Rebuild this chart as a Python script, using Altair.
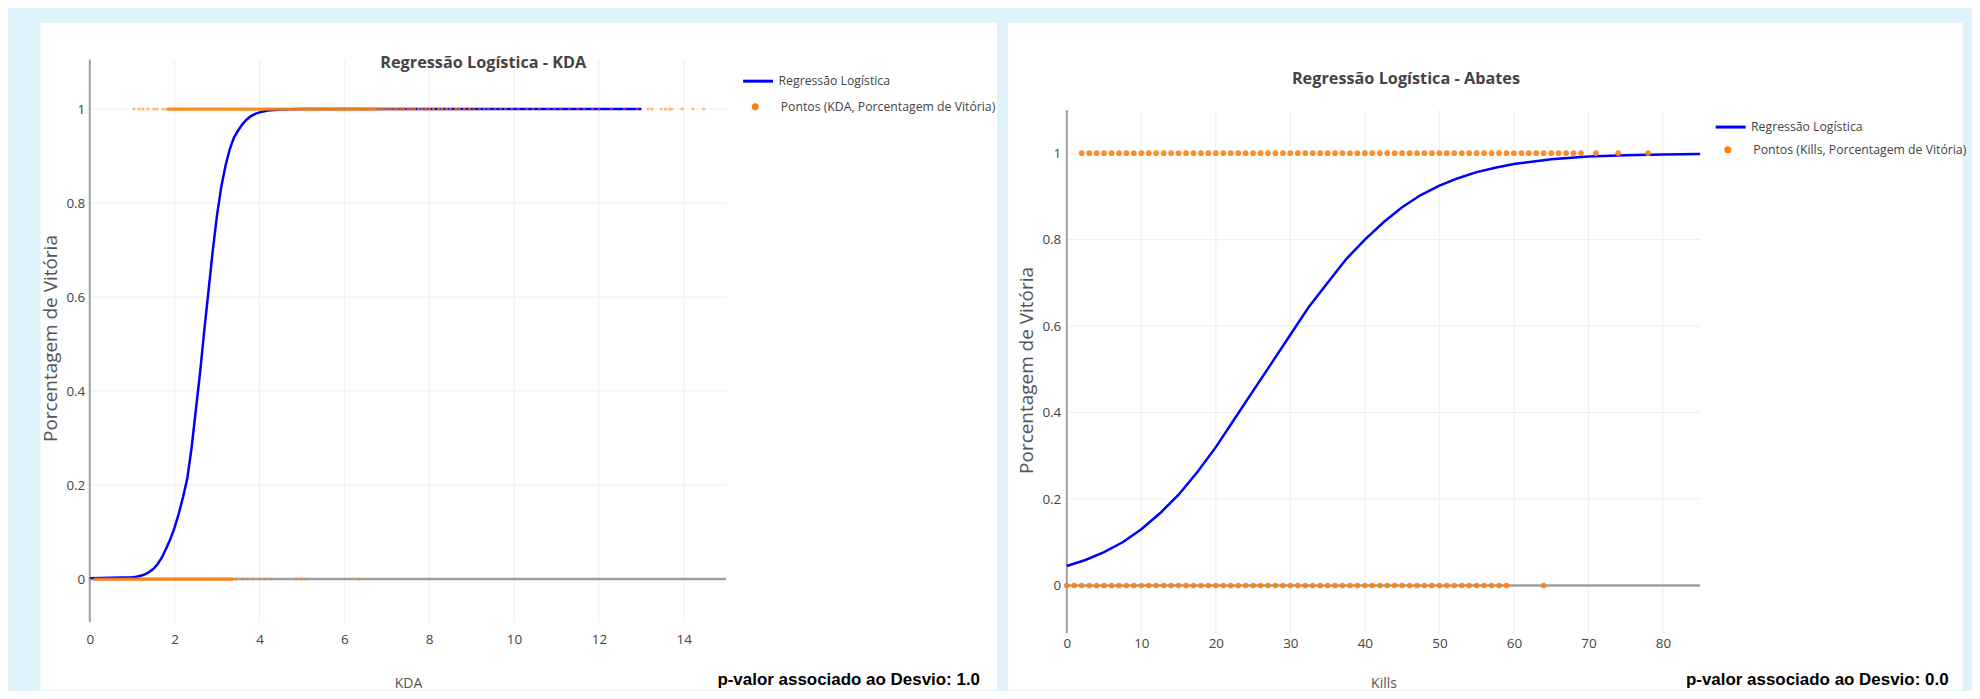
import altair as alt
import pandas as pd

# ---------------- data ----------------
TITLES = ["Regressão Logística - KDA", "Regressão Logística - Abates"]
X_TITLES = ["KDA", "Kills"]
Y_TITLE = "Porcentagem de Vitória"
LINE_NAME = "Regressão Logística"
POINT_NAMES = ["Pontos (KDA, Porcentagem de Vitória)", "Pontos (Kills, Porcentagem de Vitória)"]
NOTE_PREFIX = "p-valor associado ao Desvio: "
P_VALUES = ["1.0", "0.0"]

# logistic curve KDA
kda_curve_x = [0.0, 0.5, 1.0, 1.1, 1.2, 1.3, 1.4, 1.5, 1.6, 1.7, 1.8, 1.9, 2.0, 2.1, 2.2,
               2.3, 2.4, 2.5, 2.6, 2.7, 2.8, 2.9, 3.0, 3.1, 3.2, 3.3, 3.4, 3.5, 3.6, 3.7,
               3.8, 3.9, 4.0, 4.2, 4.5, 5.0, 7.0, 9.0, 11.0, 13.0]
kda_curve_p = [0.002, 0.003, 0.004, 0.005, 0.007, 0.010, 0.015, 0.022, 0.032, 0.046, 0.065,
               0.085, 0.11, 0.14, 0.175, 0.215, 0.28, 0.36, 0.44, 0.53, 0.615, 0.70, 0.775,
               0.835, 0.88, 0.915, 0.94, 0.955, 0.968, 0.978, 0.985, 0.99, 0.993, 0.997,
               0.999, 1.0, 1.0, 1.0, 1.0, 1.0]

# KDA of won games (y = 1)
kda_win_sparse = [1.04, 1.16, 1.25, 1.37, 1.51, 1.58, 1.72, 1.80]
kda_win_dense = [1.85, 1.90, 1.95, 2.00, 2.05, 2.10, 2.15, 2.20, 2.25, 2.30, 2.35, 2.40,
                 2.45, 2.50, 2.55, 2.60, 2.65, 2.70, 2.75, 2.80, 2.85, 2.90, 2.95, 3.00,
                 3.05, 3.10, 3.15, 3.20, 3.25, 3.30, 3.35, 3.40, 3.45, 3.50, 3.55, 3.60,
                 3.65, 3.70, 3.75, 3.80, 3.85, 3.90, 3.95, 4.00, 4.05, 4.10, 4.15, 4.20,
                 4.25, 4.30, 4.35, 4.40, 4.45, 4.50, 4.55, 4.60, 4.65, 4.70, 4.75, 4.80,
                 4.85, 4.90, 4.95, 5.00, 5.05, 5.10, 5.15, 5.20, 5.25, 5.30, 5.35, 5.40,
                 5.45, 5.50, 5.55, 5.60, 5.65, 5.70, 5.75, 5.80, 5.85, 5.90, 5.95, 6.00,
                 6.05, 6.10, 6.15, 6.20, 6.25, 6.30, 6.35, 6.40, 6.45, 6.50, 6.55, 6.60,
                 6.65, 6.70, 6.75]
kda_win_mid = [6.82, 6.88, 6.95, 7.03, 7.10, 7.18, 7.25, 7.33, 7.40, 7.50, 7.58, 7.65,
               7.75, 7.83, 7.92, 8.00, 8.10, 8.22, 8.30, 8.41, 8.50, 8.62, 8.70, 8.83,
               8.95]
kda_win_upper = [9.05, 9.18, 9.30, 9.40, 9.55, 9.68, 9.80, 9.95, 10.10, 10.30, 10.45,
                 10.60, 10.80, 10.95, 11.10, 11.30, 11.50, 11.65, 11.85, 12.00, 12.30,
                 12.60, 12.90]
kda_win_high = [13.16, 13.25, 13.47, 13.57, 13.66, 13.72, 13.96, 14.21, 14.47]

# KDA of lost games (y = 0)
kda_loss_low = [0.0, 0.1]
kda_loss_dense = [0.15, 0.20, 0.25, 0.30, 0.35, 0.40, 0.45, 0.50, 0.55, 0.60, 0.65, 0.70,
                  0.75, 0.80, 0.85, 0.90, 0.95, 1.00, 1.05, 1.10, 1.15, 1.20, 1.25, 1.30,
                  1.35, 1.40, 1.45, 1.50, 1.55, 1.60, 1.65, 1.70, 1.75, 1.80, 1.85, 1.90,
                  1.95, 2.00, 2.05, 2.10, 2.15, 2.20, 2.25, 2.30, 2.35, 2.40, 2.45, 2.50,
                  2.55, 2.60, 2.65, 2.70, 2.75, 2.80, 2.85, 2.90, 2.95, 3.00, 3.05, 3.10,
                  3.15, 3.20, 3.25, 3.30, 3.35]
kda_loss_sparse = [3.45, 3.60, 3.72, 3.84, 4.00, 4.12, 4.27, 4.86, 4.98, 5.10, 6.35]
dense_repeat = 3  # estimated number of games stacked at each dense value
mid_repeat = 2

# logistic curve Kills
kills_curve_x = [0, 2.5, 5, 7.5, 10, 12.5, 15, 17.5, 20, 22.5, 25, 27.5, 30, 32.5, 35,
                 37.5, 40, 42.5, 45, 47.5, 50, 52.5, 55, 57.5, 60, 65, 70, 75, 80, 85]
kills_curve_p = [0.045, 0.059, 0.077, 0.10, 0.13, 0.167, 0.21, 0.262, 0.32, 0.385, 0.45,
                 0.515, 0.58, 0.645, 0.70, 0.755, 0.80, 0.84, 0.875, 0.903, 0.925, 0.942,
                 0.956, 0.966, 0.975, 0.986, 0.992, 0.995, 0.997, 0.998]

kills_win = [2, 3, 4, 5, 6, 7, 8, 9, 10, 11, 12, 13, 14, 15, 16, 17, 18, 19, 20, 21, 22,
             23, 24, 25, 26, 27, 28, 29, 30, 31, 32, 33, 34, 35, 36, 37, 38, 39, 40, 41,
             42, 43, 44, 45, 46, 47, 48, 49, 50, 51, 52, 53, 54, 55, 56, 57, 58, 59, 60,
             61, 62, 63, 64, 65, 66, 67, 68, 69, 71, 74, 78]
kills_loss = [0, 1, 2, 3, 4, 5, 6, 7, 8, 9, 10, 11, 12, 13, 14, 15, 16, 17, 18, 19, 20,
              21, 22, 23, 24, 25, 26, 27, 28, 29, 30, 31, 32, 33, 34, 35, 36, 37, 38, 39,
              40, 41, 42, 43, 44, 45, 46, 47, 48, 49, 50, 51, 52, 53, 54, 55, 56, 57, 58,
              59, 64]

kda_x_ticks = [0, 2, 4, 6, 8, 10, 12, 14]
kills_x_ticks = [0, 10, 20, 30, 40, 50, 60, 70, 80]
y_ticks = [0, 0.2, 0.4, 0.6, 0.8, 1.0]

# ---------------- style ----------------
FONT = "Open Sans"
NOTE_FONT = "Liberation Sans"
TXT = "#444444"
BLUE = "#0000ff"
ORANGE = "#ff7f0e"


def panel(idx, curve_x, curve_p, pts_x, pts_y, xdom, ydom, xticks, W, H, g, psize, popac):
    X = alt.X("x:Q", scale=alt.Scale(domain=xdom, nice=False, zero=False),
              axis=alt.Axis(values=xticks, format="d", grid=False, domain=False, ticks=False,
                            labelFlush=False, labelPadding=g["xlabpad"], labelFont=FONT,
                            labelFontSize=13.5, labelColor=TXT, title=X_TITLES[idx],
                            titleFont=FONT, titleFontSize=14, titleFontWeight="normal",
                            titleColor="#555555", titleY=g["xtitley"],
                            titleBaseline="alphabetic", zindex=1))
    Y = alt.Y("y:Q", scale=alt.Scale(domain=ydom, nice=False, zero=False),
              axis=alt.Axis(values=y_ticks, format="~g", grid=False, domain=False, ticks=False,
                            labelPadding=g["ylabpad"], labelFont=FONT, labelFontSize=13.5,
                            labelColor=TXT, title=Y_TITLE, titleFont=FONT,
                            titleFontSize=19, titleFontWeight="normal", titleColor="#555555",
                            titleX=g["ytitlex"], titleY=g["ytitley"], titleBaseline="middle",
                            titleAngle=270, zindex=1))

    bg = alt.Chart(pd.DataFrame({"k": [0]})).mark_rect(color="white").encode(
        x=alt.value(g["rx1"]), x2=alt.value(g["rx2"]),
        y=alt.value(g["ry1"]), y2=alt.value(g["ry2"]))

    ylo, yhi = g["yline"]
    hgrid = alt.Chart(pd.DataFrame({"y": y_ticks[1:], "x": xdom[0], "x2": xdom[1]})).mark_rule(
        color="#eeeeee", strokeWidth=1).encode(x=X, x2="x2:Q", y=Y)
    vgrid = alt.Chart(pd.DataFrame({"x": xticks[1:], "y": ylo, "y2": yhi})).mark_rule(
        color="#eeeeee", strokeWidth=1).encode(x=X, y=Y, y2="y2:Q")
    zero_h = alt.Chart(pd.DataFrame({"x": [xdom[0]], "x2": [xdom[1]], "y": [0]})).mark_rule(
        color="#a0a0a0", strokeWidth=2.5).encode(x=X, x2="x2:Q", y=Y)
    zero_v = alt.Chart(pd.DataFrame({"x": [0], "y": [ylo], "y2": [yhi]})).mark_rule(
        color="#a0a0a0", strokeWidth=2).encode(x=X, y=Y, y2="y2:Q")

    curve = alt.Chart(pd.DataFrame({"x": curve_x, "y": curve_p, "serie": LINE_NAME})).mark_line(
        strokeWidth=2.5).encode(
        x=X, y=Y,
        stroke=alt.Stroke("serie:N", scale=alt.Scale(domain=[LINE_NAME], range=[BLUE]),
                          legend=alt.Legend(orient="none", legendX=g["l1x"], legendY=g["l1y"],
                                            title=None, symbolType="stroke", symbolSize=900,
                                            symbolStrokeWidth=3, labelFont=FONT,
                                            labelFontSize=12.3, labelColor=TXT, labelLimit=0,
                                            labelOffset=4, padding=0)))

    pts = alt.Chart(pd.DataFrame({"x": pts_x, "y": pts_y, "serie": POINT_NAMES[idx]})).mark_circle(
        size=psize, opacity=popac).encode(
        x=X, y=Y,
        fill=alt.Fill("serie:N", scale=alt.Scale(domain=[POINT_NAMES[idx]], range=[ORANGE]),
                      legend=alt.Legend(orient="none", legendX=g["l2x"], legendY=g["l2y"],
                                        title=None, symbolType="circle", symbolSize=50,
                                        symbolOpacity=1, labelFont=FONT, labelFontSize=12.3,
                                        labelColor=TXT, labelLimit=0,
                                        labelOffset=19.4, padding=0)))

    title = alt.Chart(pd.DataFrame({"t": [TITLES[idx]]})).mark_text(
        font=FONT, fontSize=16.3, fontWeight="bold", color=TXT, align="center",
        baseline="middle").encode(text="t:N", x=alt.value(g["tx"]), y=alt.value(g["ty"]))

    note = alt.Chart(pd.DataFrame({"t": [NOTE_PREFIX + P_VALUES[idx]]})).mark_text(
        font=NOTE_FONT, fontSize=17, fontWeight="bold", color="#000000", align="right",
        baseline="alphabetic").encode(text="t:N", x=alt.value(g["nx"]), y=alt.value(g["ny"]))

    return alt.layer(bg, hgrid, vgrid, zero_h, zero_v, curve, pts, title, note).properties(
        width=W, height=H)


# left panel points
lx = (kda_win_sparse + kda_win_dense * dense_repeat + kda_win_mid * mid_repeat
      + kda_win_upper + kda_win_high
      + kda_loss_low + kda_loss_dense * dense_repeat + kda_loss_sparse)
ly = ([1] * (len(kda_win_sparse) + len(kda_win_dense) * dense_repeat
             + len(kda_win_mid) * mid_repeat + len(kda_win_upper) + len(kda_win_high))
      + [0] * (len(kda_loss_low) + len(kda_loss_dense) * dense_repeat + len(kda_loss_sparse)))

left_geom = dict(rx1=-49.5, rx2=909.5, ry1=-37, ry2=632, tx=394.5, ty=3, yline=(-0.092, 1.105),
                 l1x=653.5, l1y=5, l2x=661, l2y=41,
                 nx=892.5, ny=627, xlabpad=10, xtitley=65, ylabpad=5, ytitlex=-39.5,
                 ytitley=279)
right_geom = dict(rx1=-59, rx2=898, ry1=-37, ry2=632, tx=340, ty=19, yline=(-0.1105, 1.1),
                  l1x=649, l1y=51, l2x=656.5, l2y=84,
                  nx=884, ny=627, xlabpad=3, xtitley=54, ylabpad=6, ytitlex=-40, ytitley=311)

left = panel(0, kda_curve_x, kda_curve_p, lx, ly, [0, 15], [-0.092, 1.105], kda_x_ticks,
             638, 564, left_geom, 11, 0.5)
right = panel(1, kills_curve_x, kills_curve_p, kills_win + kills_loss,
              [1] * len(kills_win) + [0] * len(kills_loss), [0, 85], [-0.1105, 1.216],
              kills_x_ticks, 635, 575, right_geom, 32, 0.9)

chart = alt.hconcat(left, right, spacing=341.5, bounds="flush").resolve_scale(
    x="independent", y="independent", stroke="independent", fill="independent"
).resolve_legend(stroke="independent", fill="independent").properties(
    padding={"left": 32, "top": 14, "right": 5, "bottom": 0},
    background="#e1f3fa",
).configure_view(strokeWidth=0)

chart.save("out.html", embed_options={"renderer": "svg", "actions": False})
